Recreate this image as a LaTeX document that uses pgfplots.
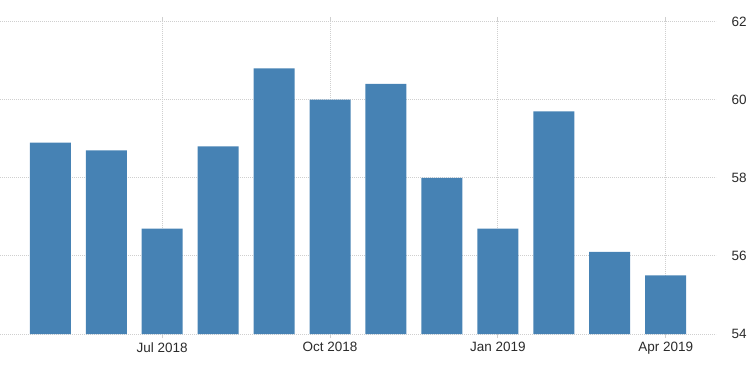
\documentclass[border=0pt]{standalone}
\usepackage{pgfplots}
\pgfplotsset{compat=1.18}
\usepackage{fontspec}
\setmainfont{Liberation Sans}
\definecolor{barblue}{HTML}{4682B4}
\definecolor{txt}{HTML}{2B2B2B}
\definecolor{gridc}{HTML}{CFCFCF}
\begin{document}
\begin{tikzpicture}[x=1bp,y=1bp]
\path[use as bounding box] (0,-39) rectangle (750,334);
\begin{axis}[
  at={(0,0)}, anchor=south west,
  scale only axis,
  width=716bp, height=312.5bp,
  xmin=-0.9, xmax=11.9,
  ymin=54, ymax=62,
  ytick={54,56,58,60,62},
  xtick={2,5,8,11},
  xticklabels={Jul 2018,Oct 2018,Jan 2019,Apr 2019},
  yticklabel pos=right,
  axis line style={draw=none},
  ytick style={draw=none},
  xtick style={draw=gridc, line width=1bp},
  major tick length=4bp,
  tick align=outside,
  xmajorgrids, ymajorgrids,
  major grid style={draw=gridc, line width=1bp, dash pattern=on 1bp off 1bp},
  /pgf/number format/assume math mode=true,
  tick label style={font=\fontsize{13.5bp}{16bp}\selectfont, text=txt},
  yticklabel style={anchor=west, xshift=8bp},
  xticklabel style={yshift=-1bp},
  ybar, bar width=41bp, bar shift=0pt,
]
\addplot[fill=barblue, draw=none] coordinates {
(0,58.9) (1,58.7) (2,56.7) (3,58.8) (4,60.8) (5,60.0)
(6,60.4) (7,58.0) (8,56.7) (9,59.7) (10,56.1) (11,55.5)
};
\end{axis}
\end{tikzpicture}
\end{document}
